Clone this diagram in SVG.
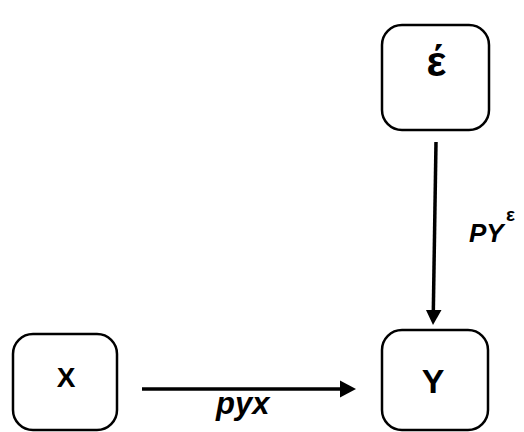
<svg xmlns="http://www.w3.org/2000/svg" width="524" height="432" viewBox="0 0 524 432">
  <style>
    .box { fill: #ffffff; stroke: #000000; stroke-width: 2.5; }
    .lbl { font-family: "Liberation Sans", Arial, sans-serif; font-weight: bold; fill: #000000; }
    .edge { stroke: #000000; stroke-width: 3.5; fill: none; }
    .head { fill: #000000; stroke: none; }
    .elbl { font-family: "Liberation Sans", Arial, sans-serif; font-weight: bold; font-style: italic; fill: #000000; }
  </style>
  <rect width="524" height="432" fill="#ffffff"/>

  <g id="node-epsilon">
    <rect class="box" x="382" y="25" width="107" height="105" rx="20" ry="20"/>
    <text class="lbl" x="436" y="76" font-size="42" text-anchor="middle">έ</text>
  </g>

  <g id="node-x">
    <rect class="box" x="13" y="334" width="104" height="96" rx="20" ry="20"/>
    <text class="lbl" x="66" y="387" font-size="28" text-anchor="middle">X</text>
  </g>

  <g id="node-y">
    <rect class="box" x="382" y="330" width="106" height="100" rx="20" ry="20"/>
    <text class="lbl" x="433" y="393" font-size="34" text-anchor="middle">Y</text>
  </g>

  <g id="connectors">
    <!-- epsilon to Y -->
    <line class="edge" x1="436" y1="142" x2="433.3" y2="312"/>
    <polygon class="head" points="426,310 441.5,310 433,325"/>
    <text class="elbl" x="469" y="242" font-size="26">PY</text>
    <text class="lbl" x="506" y="221" font-size="19">ε</text>

    <!-- X to Y -->
    <line class="edge" x1="142" y1="389" x2="342" y2="389"/>
    <polygon class="head" points="340,380.5 340,397.5 356,389"/>
    <text class="elbl" x="216" y="414" font-size="31">pyx</text>
  </g>
</svg>
